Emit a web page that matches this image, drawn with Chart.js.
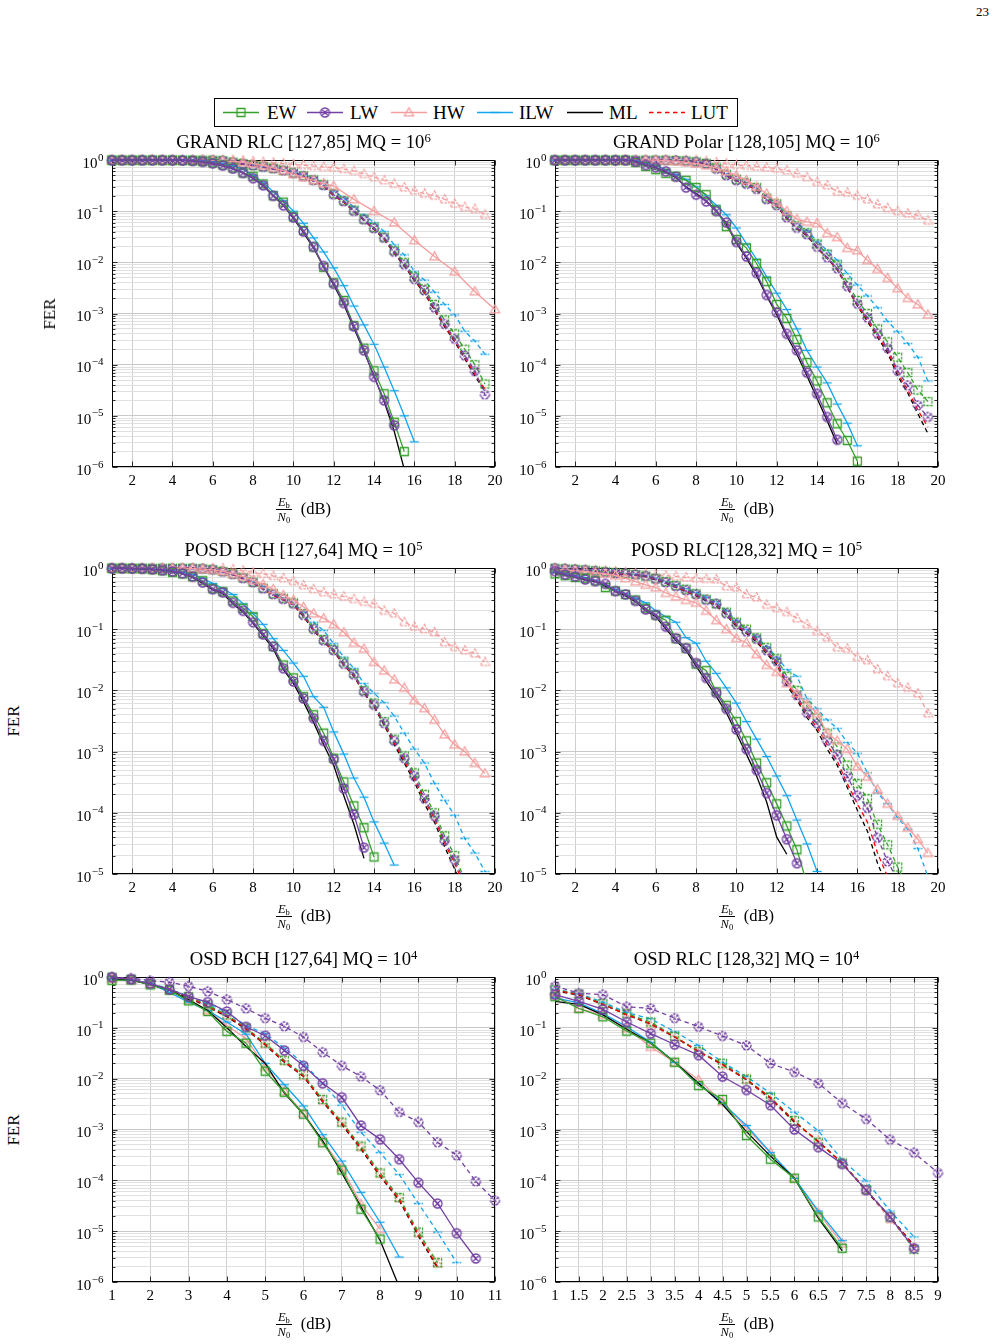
<!DOCTYPE html>
<html>
<head>
<meta charset="utf-8">
<title>FER curves</title>
<script src="https://cdn.jsdelivr.net/npm/chart.js@4.4.0/dist/chart.umd.min.js"></script>
<style>
  html, body { margin: 0; padding: 0; background: #fff; }
  body { position: relative; width: 997px; height: 1344px; overflow: hidden;
         font-family: "Liberation Serif", "Times New Roman", serif; color: #000; }
  canvas { position: absolute; }
  sup { font-size: 0.68em; line-height: 0; vertical-align: 0.5em; }
  .title { position: absolute; width: 383px; text-align: center; font-size: 18.6px; line-height: 20px; white-space: nowrap; }
  .ylab { position: absolute; font-size: 17px; transform: translate(-50%, -50%) rotate(-90deg); white-space: nowrap; }
  .xlab { position: absolute; width: 383px; height: 30px; display: flex; justify-content: center; align-items: center; font-size: 16.5px; }
  .frac { display: inline-flex; flex-direction: column; align-items: center; font-size: 12.5px; line-height: 12px; margin-right: 9px; }
  .frac .num { border-bottom: 1px solid #000; padding: 0 2px 1px; }
  .frac .den { padding-top: 1px; }
  .frac sub { font-size: 8.5px; line-height: 0; vertical-align: -2px; }
  #legend { position: absolute; left: 214px; top: 98px; width: 524px; height: 29px; box-sizing: border-box; border: 1px solid #000; }
  #legend span { position: absolute; top: 3px; font-size: 19px; line-height: 22px; }
  #legend canvas { position: absolute; top: 7px; }
  #page { position: absolute; left: 976px; top: 4px; font-size: 13px; }
</style>
</head>
<body>
<div id="page">23</div>
<div id="legend"></div>

<script>
// ---- x grids and tick labels ----
const snr20 = [1,1.5,2,2.5,3,3.5,4,4.5,5,5.5,6,6.5,7,7.5,8,8.5,9,9.5,10,10.5,11,11.5,12,12.5,13,13.5,14,14.5,15,15.5,16,16.5,17,17.5,18,18.5,19,19.5,20];
const snr11 = [1,1.5,2,2.5,3,3.5,4,4.5,5,5.5,6,6.5,7,7.5,8,8.5,9,9.5,10,10.5,11];
const snr9 = [1,1.5,2,2.5,3,3.5,4,4.5,5,5.5,6,6.5,7,7.5,8,8.5,9];
const ticks20 = [2,4,6,8,10,12,14,16,18,20];
const ticks11 = [1,2,3,4,5,6,7,8,9,10,11];
const ticks9 = [1,1.5,2,2.5,3,3.5,4,4.5,5,5.5,6,6.5,7,7.5,8,8.5,9];
const decades6 = [0,-1,-2,-3,-4,-5,-6];
const decades5 = [0,-1,-2,-3,-4,-5];

const legendNames = ['EW','LW','HW','ILW','ML','LUT'];
const plotTitles = [
  ['GRAND RLC [127,85] MQ = 10', '6'],
  ['GRAND Polar [128,105] MQ = 10', '6'],
  ['POSD BCH [127,64] MQ = 10', '5'],
  ['POSD RLC[128,32] MQ = 10', '5'],
  ['OSD BCH [127,64] MQ = 10', '4'],
  ['OSD RLC [128,32] MQ = 10', '4']
];

// ---- GRAND RLC [127,85] ----
const p1EW = [.99,.99,.99,.99,.99,.99,.99,.98,.97,.93,.88,.8,.7,.56,.48,.34,.2,.15,.078,.042,.02,8e-3,4e-3,1.8e-3,5.8e-4,2.1e-4,7.6e-5,2.7e-5,7.5e-6,2e-6];
const p1LW = [.99,.99,.99,.99,.99,.99,.99,.98,.96,.92,.86,.78,.68,.56,.44,.32,.2,.13,.075,.04,.02,8.5e-3,3.8e-3,1.6e-3,5.6e-4,1.9e-4,5.8e-5,2e-5,6.5e-6];
const p1ML = [.99,.99,.99,.99,.99,.99,.99,.98,.96,.92,.86,.78,.68,.56,.44,.31,.2,.13,.072,.038,.019,8e-3,3.6e-3,1.5e-3,5.2e-4,1.8e-4,6e-5,1.9e-5,5e-6,9e-7];
const p1ILW = [.99,.99,.99,.99,.99,.99,.99,.99,.99,.96,.92,.86,.78,.66,.5,.36,.24,.16,.1,.058,.03,.016,7.8e-3,3.5e-3,1.4e-3,6e-4,2.5e-4,9e-5,3.1e-5,1e-5,3.1e-6];
const p1HW = [.99,.99,.99,.99,.99,.99,.99,.99,.99,.99,.98,.96,.93,.9,.85,.78,.7,.62,.53,.46,.4,.35,.31,null,.17,null,.1,null,.06,null,.027,null,.013,null,6.6e-3,null,2.7e-3,null,1.2e-3];
const p1LWlut = [.99,.99,.99,.99,.99,.99,.99,.99,.99,.99,.99,.97,.9,.84,.78,.73,.68,.62,.55,.48,.4,.32,.21,.155,.1,.068,.046,.03,.016,9e-3,4.7e-3,2.8e-3,1.3e-3,6.2e-4,3.2e-4,1.5e-4,7.5e-5,2.6e-5];
const p1EWlut = [.99,.99,.99,.99,.99,.99,.99,.99,.99,.99,.99,.97,.91,.85,.79,.74,.69,.63,.56,.49,.41,.33,.22,.16,.105,.07,.048,.031,.017,.01,5.2e-3,3e-3,1.5e-3,7.5e-4,4e-4,2e-4,1e-4,4.2e-5];
const p1MLlut = [.99,.99,.99,.99,.99,.99,.99,.99,.99,.99,.99,.96,.9,.83,.77,.72,.67,.61,.54,.47,.39,.31,.2,.15,.098,.066,.044,.028,.015,8.5e-3,4.4e-3,2.5e-3,1.15e-3,5.5e-4,2.8e-4,1.3e-4,6e-5,3e-5];
const p1LUT = [.99,.99,.99,.99,.99,.99,.99,.99,.99,.99,.99,.96,.9,.84,.78,.72,.67,.61,.55,.47,.39,.31,.2,.15,.1,.067,.045,.029,.0155,8.8e-3,4.6e-3,2.6e-3,1.2e-3,5.8e-4,2.9e-4,1.4e-4,6.5e-5,3.3e-5];
const p1ILWlut = [.99,.99,.99,.99,.99,.99,.99,.99,.99,.99,.99,.97,.92,.86,.8,.75,.7,.64,.58,.51,.43,.35,.25,.18,.12,.085,.06,.04,.022,.014,6.6e-3,4.5e-3,2.6e-3,1.5e-3,9.4e-4,4.5e-4,2.9e-4,1.6e-4];
const p1HWlut = [.99,.99,.99,.99,.99,.99,.99,.99,.99,.99,.99,.99,.99,.97,.94,.91,.88,.85,.82,.79,.76,.73,.71,.66,.61,.53,.46,.4,.34,.29,.25,.22,.2,.17,.14,.12,.11,.085];

// ---- GRAND Polar [128,105] ----
const p2EW = [.99,.99,.99,.99,.99,.99,.99,.99,.9,.75,.65,.55,.48,.4,.29,.21,.105,.05,.028,.019,9.5e-3,4.2e-3,1.5e-3,8e-4,3.1e-4,1.1e-4,4.8e-5,1.8e-5,7e-6,3.3e-6,1.3e-6];
const p2LW = [.99,.99,.99,.99,.99,.99,.99,.99,.93,.8,.72,.6,.47,.29,.21,.155,.1,.06,.025,.013,6.2e-3,2.3e-3,1.05e-3,4e-4,1.9e-4,7e-5,2.7e-5,9.5e-6,3.4e-6];
const p2ML = [.99,.99,.99,.99,.99,.99,.99,.99,.93,.8,.71,.58,.45,.3,.22,.16,.1,.055,.024,.012,5.5e-3,2.2e-3,9.5e-4,3.6e-4,1.6e-4,6e-5,2.2e-5,8e-6,2.8e-6];
const p2ILW = [.99,.99,.99,.99,.99,.99,.99,.99,.96,.88,.78,.65,.52,.42,.3,.2,.13,.085,.047,.023,.0115,5.2e-3,2.5e-3,1.2e-3,5e-4,1.9e-4,9e-5,4.4e-5,1.7e-5,7.2e-6,2.6e-6];
const p2HW = [.99,.99,.99,.99,.99,.99,.99,.99,.99,.99,.99,.97,.94,.9,.85,.78,.7,.6,.5,.4,.3,.22,.15,.1,.07,.062,.058,.037,.031,.019,.017,.011,7.4e-3,4.9e-3,3.1e-3,2e-3,1.5e-3,9.5e-4];
const p2LWlut = [.99,.99,.99,.99,.99,.99,.99,.99,.99,.99,.99,.99,.98,.95,.91,.84,.67,.5,.4,.34,.27,.17,.13,.075,.047,.035,.02,.0125,7.6e-3,3.4e-3,1.55e-3,8.3e-4,4e-4,2.1e-4,7.6e-5,3.9e-5,1.6e-5,9.5e-6];
const p2EWlut = [.99,.99,.99,.99,.99,.99,.99,.99,.99,.99,.99,.99,.98,.96,.92,.86,.7,.53,.42,.36,.29,.18,.14,.082,.052,.038,.023,.0145,8.8e-3,4e-3,1.8e-3,1e-3,5e-4,2.8e-4,1.4e-4,7e-5,3.2e-5,1.9e-5];
const p2MLlut = [.99,.99,.99,.99,.99,.99,.99,.99,.99,.99,.99,.99,.98,.95,.9,.83,.66,.49,.39,.33,.26,.165,.125,.072,.045,.033,.019,.012,7.2e-3,3.2e-3,1.4e-3,7e-4,3.4e-4,1.7e-4,6e-5,2.8e-5,1.1e-5,4.5e-6];
const p2LUT = [.99,.99,.99,.99,.99,.99,.99,.99,.99,.99,.99,.99,.98,.95,.9,.83,.66,.49,.39,.33,.26,.165,.127,.073,.046,.034,.0195,.0122,7.4e-3,3.3e-3,1.45e-3,7.5e-4,3.6e-4,1.9e-4,6.8e-5,3.2e-5,1.3e-5,6e-6];
const p2ILWlut = [.99,.99,.99,.99,.99,.99,.99,.99,.99,.99,.99,.99,.98,.96,.92,.86,.7,.54,.43,.36,.29,.19,.145,.09,.058,.042,.026,.017,.011,6e-3,3.6e-3,2.2e-3,1.3e-3,7e-4,4.4e-4,2.6e-4,1.4e-4,4.8e-5];
const p2HWlut = [.99,.99,.99,.99,.99,.99,.99,.99,.99,.99,.99,.99,.99,.99,.99,.95,.9,.84,.8,.77,.74,.71,.68,.62,.54,.46,.37,.32,.24,.23,.2,.17,.135,.115,.1,.09,.083,.065];

// ---- POSD BCH [127,64] ----
const p3EW = [.99,.99,.98,.97,.94,.9,.85,.8,.72,.62,.46,.41,.29,.22,.16,.085,.052,.026,.016,7.9e-3,4e-3,2e-3,7.8e-4,3.2e-4,1.3e-4,5.7e-5,1.9e-5];
const p3LW = [.99,.99,.98,.97,.95,.92,.88,.82,.72,.58,.45,.4,.27,.2,.13,.082,.052,.023,.014,7.4e-3,3.5e-3,1.5e-3,7.5e-4,2.5e-4,9.4e-5,2.7e-5];
const p3ML = [.99,.99,.98,.97,.95,.92,.87,.8,.7,.56,.44,.38,.26,.19,.125,.078,.048,.022,.013,6.5e-3,3e-3,1.3e-3,6e-4,1.9e-4,6.5e-5,1.8e-5];
const p3ILW = [.99,.99,.98,.97,.96,.94,.9,.85,.78,.68,.56,.46,.37,.26,.18,.12,.07,.045,.028,.017,7.9e-3,5.3e-3,2.1e-3,9.1e-4,3.7e-4,1.8e-4,7.1e-5,3.2e-5,1.4e-5];
const p3HW = [.99,.99,.99,.99,.99,.99,.99,.99,.98,.96,.93,.88,.8,.72,.63,.54,.45,.36,.3,.23,.18,.15,.12,.089,.06,.048,.029,.021,.015,.011,6.9e-3,5.1e-3,3.3e-3,1.9e-3,1.3e-3,1e-3,6.5e-4,4.4e-4];
const p3LWlut = [.99,.99,.99,.99,.99,.99,.99,.99,.99,.97,.94,.87,.79,.68,.58,.46,.37,.31,.26,.17,.1,.065,.045,.027,.018,9.5e-3,5.8e-3,2.9e-3,1.5e-3,7.8e-4,4e-4,1.7e-4,8.9e-5,3.5e-5,1.7e-5,7e-6];
const p3EWlut = [.99,.99,.99,.99,.99,.99,.99,.99,.99,.97,.94,.88,.8,.69,.59,.47,.38,.32,.27,.18,.105,.068,.047,.029,.019,.01,6.2e-3,3.1e-3,1.6e-3,8.5e-4,4.5e-4,2e-4,1e-4,4.2e-5,2e-5,8e-6];
const p3MLlut = [.99,.99,.99,.99,.99,.99,.99,.99,.99,.97,.93,.86,.78,.67,.57,.45,.36,.3,.25,.16,.095,.062,.043,.026,.017,9e-3,5.4e-3,2.7e-3,1.3e-3,6.5e-4,3.2e-4,1.4e-4,7e-5,2.8e-5,1.2e-5,5e-6];
const p3LUT = [.99,.99,.99,.99,.99,.99,.99,.99,.99,.97,.93,.86,.78,.67,.57,.45,.36,.3,.25,.165,.098,.063,.044,.026,.0175,9.2e-3,5.6e-3,2.8e-3,1.4e-3,7e-4,3.6e-4,1.6e-4,8e-5,3.2e-5,1.5e-5,6e-6];
const p3ILWlut = [.99,.99,.99,.99,.99,.99,.99,.99,.99,.97,.94,.88,.8,.7,.6,.5,.4,.32,.26,.2,.13,.095,.058,.035,.023,.013,9e-3,6.3e-3,3.8e-3,2e-3,1.1e-3,6.5e-4,3e-4,1.6e-4,9.1e-5,3.8e-5,2.2e-5,1.1e-5];
const p3HWlut = [.99,.99,.99,.99,.99,.99,.99,.99,.99,.99,.99,.99,.95,.9,.84,.8,.74,.68,.61,.52,.45,.4,.37,.34,.31,.28,.26,.2,.18,.13,.11,.1,.089,.061,.051,.045,.04,.029];

// ---- POSD RLC [128,32] ----
const p4EW = [.8,.75,.7,.68,.62,.48,.42,.37,.3,.22,.17,.14,.07,.049,.027,.021,9.5e-3,5.7e-3,3.1e-3,1.5e-3,6.5e-4,3.1e-4,1.4e-4,6.1e-5,2.5e-5,7e-6];
const p4LW = [.89,.78,.73,.65,.61,.55,.42,.37,.29,.21,.17,.11,.071,.049,.028,.016,9.1e-3,5e-3,2.3e-3,1.1e-3,5e-4,2.1e-4,9.1e-5,3.7e-5,1.5e-5];
const p4ML = [.82,.76,.7,.64,.6,.5,.41,.35,.28,.2,.16,.1,.065,.045,.025,.014,8e-3,4.3e-3,2e-3,9e-4,4e-4,1.5e-4,4e-5,2.1e-5];
const p4ILW = [.85,.8,.75,.7,.62,.52,.45,.38,.32,.27,.2,.16,.13,.073,.059,.03,.019,.011,6.2e-3,3.1e-3,1.6e-3,8.3e-4,4e-4,1.9e-4,7.6e-5,3.1e-5,1.1e-5];
const p4HW = [.95,.93,.9,.88,.84,.8,.75,.68,.6,.53,.48,.39,.34,.3,.27,.2,.14,.1,.071,.06,.039,.026,.02,.013,8.9e-3,6e-3,4.2e-3,2e-3,1.5e-3,1.1e-3,5.7e-4,3.9e-4,2.4e-4,1.4e-4,8.9e-5,5.7e-5,3.7e-5,2.2e-5];
const p4LWlut = [.99,.97,.95,.92,.88,.85,.82,.8,.78,.74,.66,.58,.5,.43,.37,.3,.26,.18,.12,.091,.069,.045,.03,.014,8.3e-3,4.3e-3,2.9e-3,1.5e-3,8.9e-4,3.9e-4,1.9e-4,1.2e-4,3.9e-5,1.6e-5,8e-6];
const p4EWlut = [.99,.97,.95,.93,.9,.87,.84,.81,.78,.74,.67,.6,.52,.45,.38,.31,.26,.19,.13,.1,.072,.05,.033,.017,.01,5.5e-3,3.5e-3,2e-3,1.2e-3,6e-4,3e-4,1.7e-4,6.5e-5,3e-5,1.3e-5,6e-6];
const p4MLlut = [.99,.97,.95,.92,.88,.85,.82,.79,.76,.72,.64,.56,.48,.41,.35,.29,.24,.17,.11,.085,.062,.04,.026,.012,7e-3,3.6e-3,2.2e-3,1.1e-3,6e-4,2.6e-4,1.1e-4,5e-5,1.5e-5,6e-6];
const p4LUT = [.99,.97,.95,.92,.88,.85,.82,.79,.77,.73,.65,.57,.49,.42,.36,.3,.25,.175,.115,.088,.065,.042,.028,.013,7.6e-3,4e-3,2.5e-3,1.3e-3,7e-4,3e-4,1.4e-4,7e-5,2.2e-5,9e-6];
const p4ILWlut = [.99,.97,.95,.93,.9,.87,.84,.81,.79,.75,.68,.6,.53,.46,.4,.33,.28,.2,.14,.1,.075,.052,.035,.022,.017,7.3e-3,5e-3,3.3e-3,2.4e-3,1.4e-3,9.4e-4,4.5e-4,2.1e-4,1.4e-4,8.3e-5,5.4e-5,2.6e-5,9e-6];
const p4HWlut = [.99,.97,.95,.93,.92,.9,.88,.85,.82,.8,.77,.75,.73,.7,.68,.66,.65,.5,.48,.37,.33,.25,.22,.19,.15,.12,.093,.073,.05,.048,.035,.031,.022,.017,.013,.011,8.9e-3,4.2e-3];

// ---- OSD BCH [127,64] ----
const p5EW = [.86,.88,.7,.55,.34,.21,.085,.05,.014,5.4e-3,2e-3,5.5e-4,1.6e-4,2.7e-5,7e-6];
const p5LW = [.99,.9,.74,.57,.41,.32,.21,.105,.07,.036,.018,8.1e-3,4.3e-3,1.2e-3,6.4e-4,2.6e-4,9e-5,3.5e-5,9.1e-6,2.9e-6];
const p5ML = [.92,.87,.71,.55,.36,.22,.1,.043,.02,5.2e-3,2e-3,6e-4,1.4e-4,3e-5,6.6e-6,8e-7];
const p5ILW = [.91,.86,.74,.5,.32,.22,.13,.075,.02,7.6e-3,2.9e-3,7.9e-4,2.4e-4,5.8e-5,1.5e-5,3.1e-6];
const p5HW = [.92,.87,.72,.55,.35,.22,.11,.062,.017,5.6e-3,2.1e-3,6e-4,1.8e-4,3.4e-5,1.1e-5];
const p5LWlut = [.99,.95,.85,.79,.66,.52,.36,.24,.155,.107,.066,.033,.018,.011,5.9e-3,2.2e-3,1.4e-3,5.6e-4,3.1e-4,9.5e-5,4e-5];
const p5EWlut = [.99,.89,.74,.57,.41,.28,.18,.1,.05,.023,.012,3.9e-3,1.4e-3,4.7e-4,1.4e-4,4.6e-5,9.6e-6,2.4e-6];
const p5MLlut = [.98,.88,.72,.55,.39,.26,.165,.094,.046,.021,.011,3.5e-3,1.25e-3,4.1e-4,1.2e-4,4e-5,8e-6,1.9e-6];
const p5LUT = [.98,.88,.73,.56,.4,.265,.17,.096,.047,.0215,.0112,3.6e-3,1.3e-3,4.3e-4,1.25e-4,4.2e-5,8.5e-6,2e-6];
const p5ILWlut = [.99,.9,.75,.58,.42,.3,.2,.11,.077,.04,.02,8.1e-3,3e-3,8.8e-4,3.5e-4,1.3e-4,3.5e-5,9.6e-6,2.4e-6];
const p5HWlut = [.99,.89,.73,.56,.4,.27,.17,.098,.048,.022,.0115,3.7e-3,1.35e-3,4.5e-4,1.35e-4,4.4e-5,9e-6,2.3e-6];

// ---- OSD RLC [128,32] ----
const p6EW = [.41,.24,.165,.086,.05,.021,7.3e-3,3.9e-3,7.6e-4,2.6e-4,1.1e-4,1.9e-5,4.6e-6];
const p6LW = [.45,.33,.23,.13,.077,.047,.029,.011,6e-3,3e-3,1e-3,4.5e-4,2.1e-4,6.4e-5,1.9e-5,4.6e-6];
const p6ML = [.33,.29,.18,.094,.05,.021,8.1e-3,3.1e-3,9.1e-4,3e-4,1.1e-4,1.8e-5,4.1e-6];
const p6ILW = [.39,.31,.19,.105,.052,.021,8.1e-3,3.3e-3,1.2e-3,3.5e-4,1.1e-4,2.5e-5,6.5e-6];
const p6HW = [.44,.24,.18,.097,.042,.021,9.5e-3,3.5e-3,1.07e-3,3.5e-4,1.1e-4,2.3e-5,5.7e-6];
const p6LWlut = [.66,.48,.45,.26,.24,.155,.105,.069,.045,.02,.0135,8.1e-3,3.3e-3,1.6e-3,6.3e-4,3.5e-4,1.4e-4];
const p6EWlut = [.56,.46,.3,.19,.13,.068,.034,.02,9.8e-3,4.3e-3,1.5e-3,5.6e-4,2.2e-4,6.6e-5,1.9e-5,4.4e-6];
const p6MLlut = [.54,.44,.29,.18,.12,.066,.034,.019,9.5e-3,4.1e-3,1.4e-3,5.8e-4,2.2e-4,6.2e-5,1.9e-5,5.2e-6];
const p6LUT = [.55,.45,.29,.18,.12,.066,.034,.019,9.6e-3,4.2e-3,1.45e-3,5.7e-4,2.2e-4,6.4e-5,1.9e-5,5e-6];
const p6ILWlut = [.58,.47,.32,.2,.15,.084,.045,.021,.011,5.2e-3,2.2e-3,9.5e-4,2.5e-4,9.7e-5,2.5e-5,7.7e-6];
const p6HWlut = [.52,.44,.28,.2,.11,.066,.036,.018,.0095,3.7e-3,1.4e-3,6e-4,2.1e-4,6.2e-5,1.7e-5,4.8e-6];

// ---- look ----
const green = '#35a02c', purple = '#7340a3', pink = '#f59d9d', blue = '#12a4ee', red = '#ff0000';
const dashPat = [4.5, 3.5];
const font = '"Liberation Serif", "Times New Roman", serif';

function makeMark(shape, color, dashed) {
  const c = document.createElement('canvas');
  c.width = 13; c.height = 13;
  const g = c.getContext('2d');
  g.strokeStyle = color;
  g.lineWidth = 1.3;
  if (dashed) g.setLineDash([2.6, 1.2]);
  const m = 6.5;
  g.beginPath();
  if (shape === 'square') g.rect(m - 4, m - 4, 8, 8);
  if (shape === 'otimes') {
    g.arc(m, m, 4.5, 0, Math.PI * 2);
    g.moveTo(m - 3.2, m - 3.2); g.lineTo(m + 3.2, m + 3.2);
    g.moveTo(m + 3.2, m - 3.2); g.lineTo(m - 3.2, m + 3.2);
  }
  if (shape === 'triangle') {
    g.moveTo(m, m - 4.8); g.lineTo(m + 4.6, m + 3.3); g.lineTo(m - 4.6, m + 3.3); g.closePath();
  }
  if (shape === 'bar') { g.moveTo(m - 4.5, m); g.lineTo(m + 4.5, m); }
  g.stroke();
  return c;
}

// first key is drawn on top
const seriesStyle = {
  LW:     {color: purple,  dashed: false, mark: 'otimes'},
  EW:     {color: green,   dashed: false, mark: 'square'},
  ML:     {color: '#000',  dashed: false, mark: null},
  ILW:    {color: blue,    dashed: false, mark: 'bar'},
  HW:     {color: pink,    dashed: false, mark: 'triangle'},
  LWlut:  {color: purple,  dashed: true,  mark: 'otimes'},
  LUT:    {color: red,     dashed: true,  mark: null},
  EWlut:  {color: green,   dashed: true,  mark: 'square'},
  MLlut:  {color: '#000',  dashed: true,  mark: null},
  ILWlut: {color: blue,    dashed: true,  mark: 'bar'},
  HWlut:  {color: pink,    dashed: true,  mark: 'triangle'}
};

const plots = [
  {grid: snr20, ticks: ticks20, xMin: 1, xMax: 20, decades: decades6, box: [112, 160, 495, 467],
   data: {EW: p1EW, LW: p1LW, HW: p1HW, ILW: p1ILW, ML: p1ML, EWlut: p1EWlut, LWlut: p1LWlut, HWlut: p1HWlut, ILWlut: p1ILWlut, MLlut: p1MLlut, LUT: p1LUT}},
  {grid: snr20, ticks: ticks20, xMin: 1, xMax: 20, decades: decades6, box: [555, 160, 938, 467],
   data: {EW: p2EW, LW: p2LW, HW: p2HW, ILW: p2ILW, ML: p2ML, EWlut: p2EWlut, LWlut: p2LWlut, HWlut: p2HWlut, ILWlut: p2ILWlut, MLlut: p2MLlut, LUT: p2LUT}},
  {grid: snr20, ticks: ticks20, xMin: 1, xMax: 20, decades: decades5, box: [112, 568, 495, 874],
   data: {EW: p3EW, LW: p3LW, HW: p3HW, ILW: p3ILW, ML: p3ML, EWlut: p3EWlut, LWlut: p3LWlut, HWlut: p3HWlut, ILWlut: p3ILWlut, MLlut: p3MLlut, LUT: p3LUT}},
  {grid: snr20, ticks: ticks20, xMin: 1, xMax: 20, decades: decades5, box: [555, 568, 938, 874],
   data: {EW: p4EW, LW: p4LW, HW: p4HW, ILW: p4ILW, ML: p4ML, EWlut: p4EWlut, LWlut: p4LWlut, HWlut: p4HWlut, ILWlut: p4ILWlut, MLlut: p4MLlut, LUT: p4LUT}},
  {grid: snr11, ticks: ticks11, xMin: 1, xMax: 11, decades: decades6, box: [112, 977, 495, 1282],
   data: {EW: p5EW, LW: p5LW, HW: p5HW, ILW: p5ILW, ML: p5ML, EWlut: p5EWlut, LWlut: p5LWlut, HWlut: p5HWlut, ILWlut: p5ILWlut, MLlut: p5MLlut, LUT: p5LUT}},
  {grid: snr9, ticks: ticks9, xMin: 1, xMax: 9, decades: decades6, box: [555, 977, 938, 1282],
   data: {EW: p6EW, LW: p6LW, HW: p6HW, ILW: p6ILW, ML: p6ML, EWlut: p6EWlut, LWlut: p6LWlut, HWlut: p6HWlut, ILWlut: p6ILWlut, MLlut: p6MLlut, LUT: p6LUT}}
];

// frame, tick marks and tick labels (drawn under the curves)
const framePlugin = {
  id: 'frame',
  beforeDatasetsDraw(chart, args, opts) {
    const {ctx, chartArea: a, scales: {x, y}} = chart;
    const L = Math.round(a.left) + 0.5, R = Math.round(a.right) - 0.5;
    const T = Math.round(a.top) + 0.5, B = Math.round(a.bottom) - 0.5;
    ctx.save();
    ctx.strokeStyle = '#000';
    ctx.lineWidth = 0.8;
    ctx.beginPath();
    y.ticks.forEach(t => {
      const py = Math.round(y.getPixelForValue(t.value)) + 0.5;
      const len = t.major ? 5 : 3;
      ctx.moveTo(L, py); ctx.lineTo(L + len, py);
      ctx.moveTo(R, py); ctx.lineTo(R - len, py);
    });
    x.ticks.forEach(t => {
      const px = Math.round(x.getPixelForValue(t.value)) + 0.5;
      ctx.moveTo(px, B); ctx.lineTo(px, B - 5);
      ctx.moveTo(px, T); ctx.lineTo(px, T + 5);
    });
    ctx.stroke();
    ctx.lineWidth = 1;
    ctx.strokeRect(L, T, R - L, B - T);

    ctx.fillStyle = '#000';
    ctx.textBaseline = 'alphabetic';
    ctx.textAlign = 'right';
    opts.decades.forEach(e => {
      const py = y.getPixelForValue(Math.pow(10, e));
      const ex = e === 0 ? '0' : '\u2212' + (-e);
      ctx.font = '11px ' + font;
      const we = ctx.measureText(ex).width;
      const xr = a.left - 8.5;
      ctx.fillText(ex, xr, py + 0.5);
      ctx.font = '15px ' + font;
      ctx.fillText('10', xr - we - 0.5, py + 7.8);
    });
    ctx.textAlign = 'center';
    ctx.font = '15px ' + font;
    opts.ticks.forEach(v => {
      ctx.fillText(String(v), x.getPixelForValue(v), a.bottom + 18.3);
    });
    ctx.restore();
  }
};

const padL = 58, padR = 16, padT = 10, padB = 30;

plots.forEach((p, k) => {
  const [L, T, R, B] = p.box;
  const cv = document.createElement('canvas');
  cv.width = R - L + padL + padR;
  cv.height = B - T + padT + padB;
  cv.style.left = (L - padL) + 'px';
  cv.style.top = (T - padT) + 'px';
  document.body.appendChild(cv);

  const lowExp = p.decades[p.decades.length - 1];
  const datasets = Object.keys(seriesStyle).map(key => {
    const st = seriesStyle[key];
    const vals = p.data[key];
    return {
      label: key,
      data: p.grid.map((xv, i) => ({x: xv, y: vals[i] === undefined ? null : vals[i]})),
      borderColor: st.color,
      borderWidth: 1.3,
      borderDash: st.dashed ? dashPat : [],
      pointStyle: st.mark ? makeMark(st.mark, st.color, st.dashed) : 'circle',
      pointRadius: st.mark ? 4 : 0,
      fill: false,
      tension: 0,
      spanGaps: true,
      clip: {left: 8, top: 8, right: 8, bottom: 0}
    };
  });

  new Chart(cv, {
    type: 'line',
    data: {datasets},
    options: {
      responsive: false,
      animation: false,
      events: [],
      layout: {padding: {left: padL, right: padR, top: padT, bottom: padB}},
      plugins: {
        legend: {display: false},
        tooltip: {enabled: false},
        frame: {decades: p.decades, ticks: p.ticks}
      },
      scales: {
        x: {
          type: 'linear', min: p.xMin, max: p.xMax,
          afterBuildTicks: axis => { axis.ticks = p.ticks.map(v => ({value: v})); },
          ticks: {display: false},
          grid: {color: '#cfcfcf', lineWidth: 1, drawTicks: false},
          border: {display: false}
        },
        y: {
          type: 'logarithmic', min: Math.pow(10, lowExp), max: 1,
          afterBuildTicks: axis => {
            const t = [];
            for (let e = lowExp; e <= 0; e++) {
              for (let m = 1; m <= 9; m++) {
                if (e === 0 && m > 1) break;
                t.push({value: m * Math.pow(10, e), major: m === 1});
              }
            }
            axis.ticks = t;
          },
          ticks: {display: false},
          grid: {color: c => (c.tick && c.tick.major) ? '#c9c9c9' : '#e0e0e0', lineWidth: 1, drawTicks: false},
          border: {display: false}
        }
      }
    },
    plugins: [framePlugin]
  });

  // title, x label, y label
  const cx = (L + R) / 2;
  const ti = document.createElement('div');
  ti.className = 'title';
  ti.style.left = (cx - 191.5) + 'px';
  ti.style.top = (T - 28) + 'px';
  ti.innerHTML = plotTitles[k][0] + '<sup>' + plotTitles[k][1] + '</sup>';
  document.body.appendChild(ti);

  const xl = document.createElement('div');
  xl.className = 'xlab';
  xl.style.left = (cx - 191.5) + 'px';
  xl.style.top = (B + 27) + 'px';
  xl.innerHTML = '<span class="frac"><span class="num"><i>E</i><sub>b</sub></span><span class="den"><i>N</i><sub>0</sub></span></span><span>(dB)</span>';
  document.body.appendChild(xl);

  if (L < 300) {
    const yl = document.createElement('div');
    yl.className = 'ylab';
    yl.style.left = (k === 0 ? 50 : 14) + 'px';
    yl.style.top = ((T + B) / 2) + 'px';
    yl.textContent = 'FER';
    document.body.appendChild(yl);
  }
});

// legend
const legendKeys = ['EW', 'LW', 'HW', 'ILW', 'ML', 'LUT'];
const legendSampleX = [8, 92, 176, 262, 352, 434];
const legendTextX = [52, 135, 218, 304, 394, 476];
const lg = document.getElementById('legend');
legendKeys.forEach((key, i) => {
  const st = seriesStyle[key];
  const c = document.createElement('canvas');
  c.width = 36; c.height = 13;
  c.style.left = legendSampleX[i] + 'px';
  const g = c.getContext('2d');
  g.strokeStyle = st.color;
  g.lineWidth = 1.3;
  if (st.dashed) g.setLineDash(dashPat);
  g.beginPath(); g.moveTo(0, 6.5); g.lineTo(36, 6.5); g.stroke();
  if (st.mark) g.drawImage(makeMark(st.mark, st.color, false), 11.5, 0);
  lg.appendChild(c);
  const s = document.createElement('span');
  s.style.left = legendTextX[i] + 'px';
  s.textContent = legendNames[i];
  lg.appendChild(s);
});
</script>
</body>
</html>
